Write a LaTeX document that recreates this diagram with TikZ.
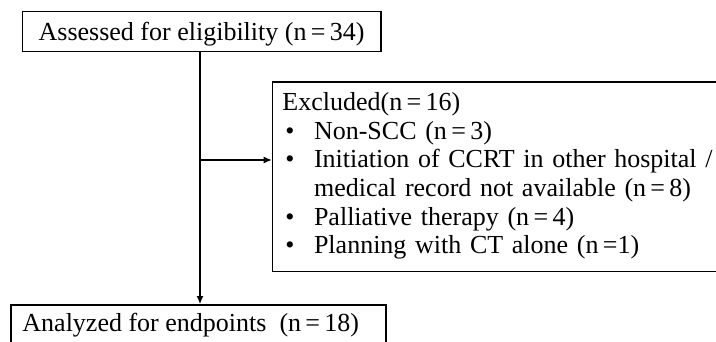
\documentclass[tikz,border=0pt]{standalone}
\usepackage{fontspec}
\setmainfont{Liberation Serif}
\usetikzlibrary{arrows.meta}
\begin{document}
\begin{tikzpicture}[x=1pt,y=1pt,
  box/.style={draw=black,line width=1.5pt,rectangle,inner ysep=0pt,
    font=\fontsize{26}{28.7}\selectfont},
  arr/.style={line width=1.2pt,-{Latex[length=8pt,width=7pt]}}]
\useasboundingbox (0,0) rectangle (716,-341);
% top box
\node[box,anchor=north west,inner xsep=0pt,minimum width=358.3pt,
  text height=28.6pt,text depth=11.4pt] (top) at (21.7,-10.7)
  {Assessed for eligibility (n\,=\,34)};
% excluded box
\node[box,anchor=north west,inner xsep=10pt,text width=440pt,align=left] (excl) at (271.7,-81.3)
  {\rule{0pt}{28.4pt}Excluded(n\,=\,16)\\
   \makebox[31.6pt][l]{\hspace{3pt}•}Non-SCC (n\,=\,3)\\
   \makebox[31.6pt][l]{\hspace{3pt}•}Initiation of CCRT in other hospital /\\
   \hspace*{31.6pt}medical record not available (n\,=\,8)\\
   \makebox[31.6pt][l]{\hspace{3pt}•}Palliative therapy (n\,=\,4)\\
   \makebox[31.6pt][l]{\hspace{3pt}•}Planning with CT alone (n\,=1)\rule[-17.3pt]{0pt}{17.3pt}};
% bottom box
\node[box,anchor=north west,inner xsep=11.7pt,
  text height=27pt,text depth=20pt] (bot) at (10,-304)
  {\makebox[351.6pt][l]{Analyzed for endpoints\ \ (n\,=\,18)}};
% connectors
\coordinate (xl) at (200,0);
\coordinate (j) at (200,-160);
\draw[arr] (xl |- top.south) -- (xl |- bot.north);
\draw[arr] (j) -- (j -| excl.west);
\end{tikzpicture}
\end{document}
